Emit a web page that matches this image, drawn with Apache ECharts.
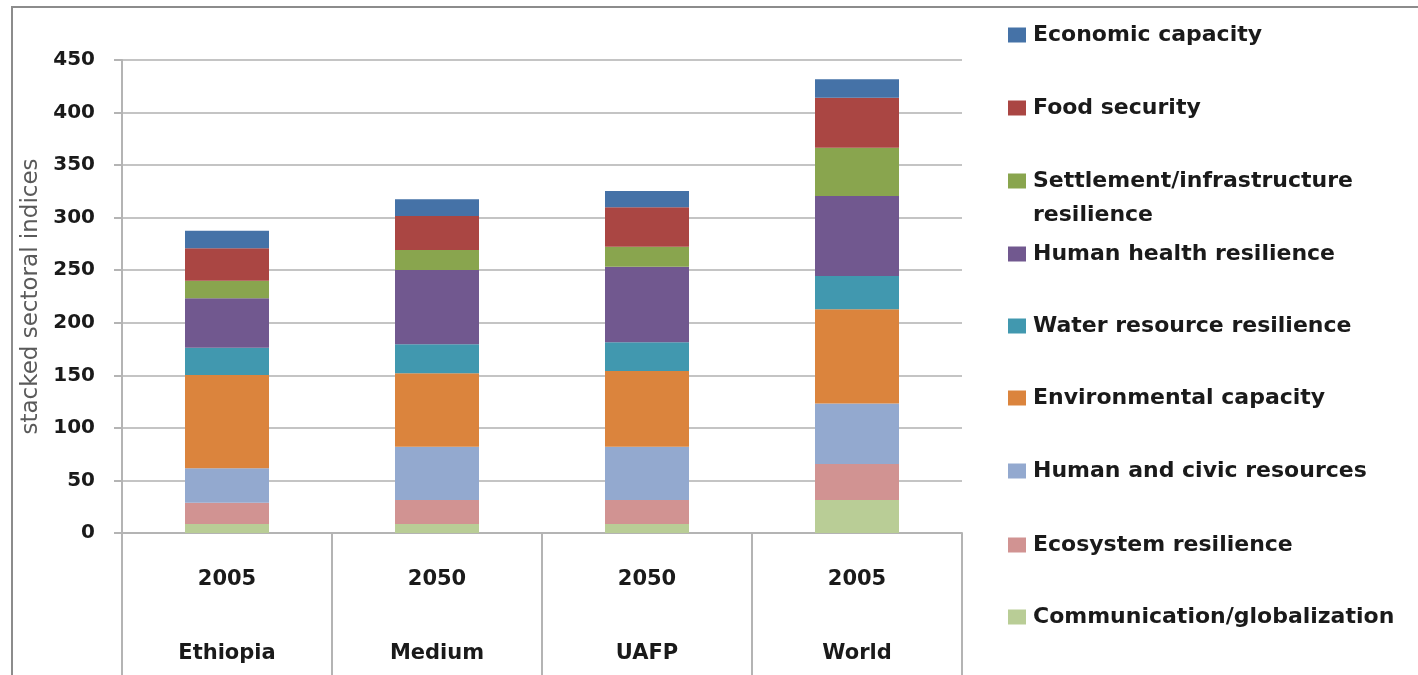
<!DOCTYPE html>
<html>
<head>
<meta charset="utf-8">
<script src="https://cdn.jsdelivr.net/npm/echarts@6/dist/echarts.min.js"></script>
<style>
html,body{margin:0;padding:0;background:#fff;}
#chart{width:1418px;height:675px;}
</style>
</head>
<body>
<div id="chart"></div>
<script>
// ---- data ----
const regions = ['Ethiopia', 'Medium', 'UAFP', 'World'];
const years = ['2005', '2050', '2050', '2005'];
const yTicks = [0, 50, 100, 150, 200, 250, 300, 350, 400, 450];

const communication = [8.6, 8.6, 8.6, 31.4];
const ecosystem = [20.2, 22.8, 22.8, 34.2];
const humanCivic = [32.7, 50.7, 50.7, 57.7];
const environmental = [88.8, 69.8, 72.0, 89.5];
const water = [26.0, 27.6, 27.3, 31.7];
const humanHealth = [47.0, 70.7, 72.0, 76.1];
const settlement = [16.7, 19.1, 19.0, 46.0];
const food = [31.0, 32.3, 37.5, 47.6];
const economic = [16.6, 15.9, 15.5, 17.5];

const seriesNames = [
  'Communication/globalization', 'Ecosystem resilience', 'Human and civic resources',
  'Environmental capacity', 'Water resource resilience', 'Human health resilience',
  'Settlement/infrastructure resilience', 'Food security', 'Economic capacity'
];
const seriesData = [communication, ecosystem, humanCivic, environmental, water,
  humanHealth, settlement, food, economic];
const colors = ['#B9CD96', '#D19392', '#93A9CF', '#DB843D', '#4198AF',
  '#71588F', '#89A54E', '#AA4643', '#4572A7'];

// legend order (top to bottom) and vertical centres
const legendOrder = [8, 7, 6, 5, 4, 3, 2, 1, 0];
const legendCenters = [35, 108, 181, 254, 326, 398, 471, 545, 617];

const FONT = '"DejaVu Sans"';
const chart = echarts.init(document.getElementById('chart'));

const legends = legendOrder.map((si, k) => {
  const isTwoLine = seriesNames[si] === 'Settlement/infrastructure resilience';
  return {
    data: [seriesNames[si]],
    left: 1008,
    top: isTwoLine ? legendCenters[k] - 51 : legendCenters[k] - 11,
    padding: 0,
    itemWidth: 18,
    itemHeight: 15,
    icon: 'rect',
    selectedMode: false,
    formatter: isTwoLine ? '\nSettlement/infrastructure\nresilience' : '{name}',
    textStyle: Object.assign({
      fontFamily: FONT, fontWeight: 'bold', fontSize: 22, color: '#1a1a1a',
      padding: [0, 0, 0, 2]
    }, isTwoLine ? {lineHeight: 34} : {})
  };
});

const option = {
  animation: false,
  backgroundColor: '#fff',
  color: colors,
  textStyle: {fontFamily: FONT},
  graphic: [{
    type: 'rect', silent: true,
    shape: {x: 12, y: 7, width: 1440, height: 720},
    style: {fill: 'none', stroke: '#8c8c8c', lineWidth: 2}
  }],
  legend: legends,
  grid: {left: 122, right: 456, top: 60, bottom: 142, containLabel: false},
  xAxis: {
    type: 'category',
    data: regions,
    boundaryGap: true,
    axisLine: {show: true, lineStyle: {color: '#b4b4b4', width: 2}},
    axisTick: {show: true, alignWithLabel: false, length: 142, lineStyle: {color: '#b4b4b4', width: 2}},
    axisLabel: {
      interval: 0,
      margin: 10,
      formatter: (v, i) => '{y|' + years[i] + '}\n{r|' + v + '}',
      rich: {
        y: {fontFamily: FONT, fontWeight: 'bold', fontSize: 21, color: '#1a1a1a', lineHeight: 74},
        r: {fontFamily: FONT, fontWeight: 'bold', fontSize: 21, color: '#1a1a1a', lineHeight: 74}
      }
    }
  },
  yAxis: {
    type: 'value',
    min: yTicks[0],
    max: yTicks[yTicks.length - 1],
    interval: yTicks[1] - yTicks[0],
    name: 'stacked sectoral indices',
    nameLocation: 'middle',
    nameGap: 79,
    nameTextStyle: {fontFamily: FONT, fontSize: 23, color: '#5a5a5a'},
    axisLine: {show: true, lineStyle: {color: '#b4b4b4', width: 2}},
    axisTick: {show: true, length: 8, lineStyle: {color: '#b4b4b4', width: 2}},
    axisLabel: {fontFamily: FONT, fontWeight: 'bold', fontSize: 20, color: '#1a1a1a', margin: 27},
    splitLine: {show: true, lineStyle: {color: '#c4c4c4', width: 2}}
  },
  series: seriesData.map((d, i) => ({
    name: seriesNames[i],
    type: 'bar',
    stack: 'total',
    barCategoryGap: '60%',
    data: d,
    itemStyle: {color: colors[i]}
  }))
};
chart.setOption(option);
</script>
</body>
</html>
